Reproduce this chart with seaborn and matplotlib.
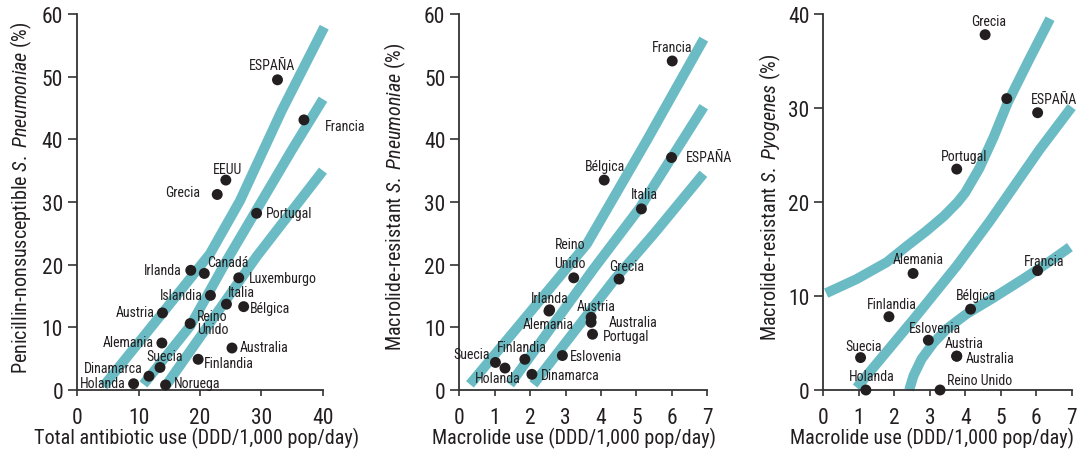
import matplotlib
matplotlib.use("Agg")
import matplotlib.pyplot as plt
import matplotlib.font_manager as fm
import seaborn as sns
import pandas as pd

# ---------------- data ----------------
p1_countries = ["ESPAÑA", "Francia", "EEUU", "Grecia", "Portugal", "Irlanda", "Canadá",
                "Luxemburgo", "Islandia", "Italia", "Bélgica", "Austria", "Reino\nUnido",
                "Alemania", "Australia", "Finlandia", "Suecia", "Dinamarca", "Holanda", "Noruega"]
p1_use = [32.6, 36.9, 24.2, 22.8, 29.2, 18.5, 20.7, 26.3, 21.7, 24.3, 27.1, 13.9, 18.4,
          13.8, 25.2, 19.7, 13.5, 11.7, 9.2, 14.4]
p1_res = [49.5, 43.1, 33.5, 31.2, 28.2, 19.1, 18.6, 17.9, 15.1, 13.7, 13.3, 12.3, 10.6,
          7.5, 6.7, 4.9, 3.6, 2.2, 1.0, 0.8]

p2_countries = ["Francia", "ESPAÑA", "Bélgica", "Italia", "Reino\nUnido", "Grecia", "Irlanda",
                "Alemania", "Austria", "Australia", "Portugal", "Suecia", "Holanda",
                "Finlandia", "Eslovenia", "Dinamarca"]
p2_use = [6.01, 5.99, 4.09, 5.14, 3.23, 4.51, 2.55, 2.53, 3.72, 3.72, 3.76, 1.02, 1.29,
          1.85, 2.91, 2.05]
p2_res = [52.5, 37.1, 33.5, 28.9, 17.9, 17.7, 12.8, 12.6, 11.6, 10.8, 8.9, 4.4, 3.5,
          4.9, 5.5, 2.5]

p3_countries = ["Grecia", "", "ESPAÑA", "Portugal", "Alemania", "Francia", "Finlandia",
                "Bélgica", "Eslovenia", "Austria", "Australia", "Suecia", "Holanda",
                "Reino Unido"]
p3_use = [4.56, 5.17, 6.04, 3.76, 2.53, 6.04, 1.85, 4.15, 2.96, 3.76, 3.76, 1.05, 1.2, 3.29]
p3_res = [37.8, 31.0, 29.5, 23.5, 12.4, 12.7, 7.8, 8.6, 5.3, 3.6, 3.6, 3.45, 0.0, 0.0]

# regression line and confidence band curves
p1_upper_x = [4.3, 14.0, 21.6, 26.5, 33.3, 40.2]
p1_upper_y = [0.6, 12.4, 21.7, 30.2, 44.6, 57.9]
p1_mid_x = [10.8, 18.4, 24.3, 35.0, 40.0]
p1_mid_y = [0.9, 10.2, 20.6, 38.4, 46.4]
p1_low_x = [14.6, 29.2, 40.0]
p1_low_y = [0.9, 21.3, 35.0]

p2_upper_x = [0.3, 3.6, 5.29, 6.9]
p2_upper_y = [0.9, 23.3, 39.8, 56.0]
p2_mid_x = [1.43, 3.8, 5.1, 6.9]
p2_mid_y = [0.9, 19.4, 29.1, 45.2]
p2_low_x = [2.09, 4.39, 5.52, 6.89]
p2_low_y = [0.9, 17.7, 25.1, 34.5]

p3_upper_x = [0.08, 0.94, 1.79, 2.35, 2.9, 3.4, 3.79, 4.0, 4.4, 4.8, 5.2, 5.78, 6.39]
p3_upper_y = [10.3, 11.8, 13.6, 15.3, 16.9, 18.5, 20.0, 21.0, 23.6, 26.9, 30.6, 35.0, 39.5]
p3_mid_x = [0.94, 2.54, 3.76, 4.7, 6.1, 7.0]
p3_mid_y = [0.25, 7.5, 13.2, 18.0, 25.6, 30.1]
p3_low_x = [2.42, 2.54, 2.77, 3.1, 3.48, 4.04, 4.79, 5.63, 6.39, 6.95]
p3_low_y = [0.0, 1.5, 3.3, 5.0, 6.5, 8.1, 9.8, 11.8, 13.7, 15.2]

p1_xticks = [0, 10, 20, 30, 40]
p23_xticks = [0, 1, 2, 3, 4, 5, 6, 7]
p12_yticks = [0, 10, 20, 30, 40, 50, 60]
p3_yticks = [0, 10, 20, 30, 40]

# ---------------- label placement (ha, dx px, dy px) ----------------
p1_lab = {"ESPAÑA": ("center", -5, 15), "Francia": ("left", 21, -6), "EEUU": ("center", 2, 11),
          "Grecia": ("right", -17, 2), "Portugal": ("left", 9, 0), "Irlanda": ("right", -9, 0),
          "Canadá": ("left", 3, 11), "Luxemburgo": ("left", 10, 0), "Islandia": ("right", -8, 0),
          "Italia": ("left", 1, 12), "Bélgica": ("left", 6, -1), "Austria": ("right", -8, 1),
          "Reino\nUnido": ("left", 7, 1), "Alemania": ("right", -8, 1), "Australia": ("left", 8, 1),
          "Finlandia": ("left", 6, -4), "Suecia": ("center", 5, 11), "Dinamarca": ("right", -6, 8),
          "Holanda": ("right", -8, 1), "Noruega": ("left", 8, 2)}
p2_lab = {"Francia": ("center", 0, 14), "ESPAÑA": ("left", 14, 1), "Bélgica": ("center", 1, 14),
          "Italia": ("center", 3, 15), "Reino\nUnido": ("center", -4, 24), "Grecia": ("center", 8, 13),
          "Irlanda": ("center", 0, 12), "Alemania": ("center", -1, -13), "Austria": ("center", 5, 11),
          "Australia": ("left", 18, 0), "Portugal": ("left", 10, -2), "Suecia": ("right", -6, 8),
          "Holanda": ("center", -7, -10), "Finlandia": ("center", -3, 12), "Eslovenia": ("left", 7, 0),
          "Dinamarca": ("left", 9, -1)}
p3_lab = {"Grecia": ("center", 4, 14), "ESPAÑA": ("center", 16, 14), "Portugal": ("center", 7, 13),
          "Alemania": ("center", 5, 14), "Francia": ("center", 6, 10), "Finlandia": ("center", 3, 13),
          "Bélgica": ("center", 5, 14), "Eslovenia": ("center", 7, 12), "Austria": ("center", 7, 13),
          "Australia": ("left", 9, -2), "Suecia": ("center", 3, 12), "Holanda": ("center", 6, 14),
          "Reino Unido": ("left", 7, 10)}
line_spacing = {("p1", "Reino\nUnido"): 0.85, ("p2", "Reino\nUnido"): 1.45}

# ---------------- style ----------------
sns.set_style("ticks")
names = {f.name for f in fm.fontManager.ttflist}
FONT = "DejaVu Sans"
for cand in ["Liberation Sans Narrow", "Roboto Condensed", "Open Sans Condensed", "Lato"]:
    if cand in names:
        FONT = cand
        break
plt.rcParams["font.family"] = [FONT, "DejaVu Sans"]
plt.rcParams["mathtext.fontset"] = "custom"
plt.rcParams["mathtext.rm"] = FONT
plt.rcParams["mathtext.it"] = FONT + ":italic"
plt.rcParams["mathtext.default"] = "regular"

TEAL = "#6bbbc4"
INK = "#231f20"
SPINE = "#333333"

fig = plt.figure(figsize=(10.87, 4.60), dpi=100)
W, H = 1087.0, 460.0


def make_axes(left_px, right_px, top_px=15.0, bottom_px=391.0):
    return fig.add_axes([left_px / W, 1 - bottom_px / H, (right_px - left_px) / W,
                         (bottom_px - top_px) / H])


def draw_panel(ax, key, countries, xs, ys, bands, labels, xlim, ylim, xticks, yticks,
               xlabel, xlabel_x, ylabel, ylabel_x):
    for bx, by in bands:
        df = pd.DataFrame({"x": bx, "y": by})
        sns.lineplot(data=df, x="x", y="y", ax=ax, color=TEAL, linewidth=7.2, sort=False,
                     estimator=None, legend=False, solid_capstyle="butt",
                     solid_joinstyle="round", clip_on=False, zorder=2)
    dfp = pd.DataFrame({"x": xs, "y": ys})
    sns.scatterplot(data=dfp, x="x", y="y", ax=ax, color=INK, s=62, edgecolor="none",
                    linewidth=0, zorder=4, clip_on=False, legend=False)
    for name, x, y in zip(countries, xs, ys):
        if not name:
            continue
        ha, dx, dy = labels[name]
        ax.annotate(name, (x, y), xytext=(dx, dy), textcoords="offset pixels", ha=ha,
                    va="center", fontsize=10, color=INK, zorder=5,
                    linespacing=line_spacing.get((key, name), 1.2), annotation_clip=False)
    ax.set_xlim(*xlim)
    ax.set_ylim(*ylim)
    ax.set_xticks(xticks)
    ax.set_yticks(yticks)
    ax.tick_params(axis="y", length=6.5, width=1.2, pad=3.5, labelsize=15.5, colors=SPINE,
                   labelcolor=INK)
    ax.tick_params(axis="x", length=4.5, width=1.2, pad=8, labelsize=15.5, colors=SPINE,
                   labelcolor=INK)
    for s in ["top", "right"]:
        ax.spines[s].set_visible(False)
    for s in ["left", "bottom"]:
        ax.spines[s].set_color(SPINE)
        ax.spines[s].set_linewidth(1.3)
    ax.set_facecolor("none")
    ax.set_xlabel(xlabel, fontsize=14.5, color=INK, va="center")
    ax.xaxis.set_label_coords(xlabel_x, -0.125)
    ax.set_ylabel(ylabel, fontsize=14.5, color=INK, va="center")
    ax.yaxis.set_label_coords(ylabel_x, 0.515)


ax1 = make_axes(77, 323)
draw_panel(ax1, "p1", p1_countries, p1_use, p1_res,
           [(p1_upper_x, p1_upper_y), (p1_mid_x, p1_mid_y), (p1_low_x, p1_low_y)],
           p1_lab, (0, 40), (0, 60), p1_xticks, p12_yticks,
           "Total antibiotic use (DDD/1,000 pop/day)", 0.488,
           r"Penicillin-nonsusceptible $\mathit{S.\ Pneumoniae}$ (%)", -0.225)

ax2 = make_axes(459.3, 707.3)
draw_panel(ax2, "p2", p2_countries, p2_use, p2_res,
           [(p2_upper_x, p2_upper_y), (p2_mid_x, p2_mid_y), (p2_low_x, p2_low_y)],
           p2_lab, (0, 7), (0, 60), p23_xticks, p12_yticks,
           "Macrolide use (DDD/1,000 pop/day)", 0.4625,
           r"Macrolide-resistant $\mathit{S.\ Pneumoniae}$ (%)", -0.26)

ax3 = make_axes(823.3, 1071.7)
draw_panel(ax3, "p3", p3_countries, p3_use, p3_res,
           [(p3_upper_x, p3_upper_y), (p3_mid_x, p3_mid_y), (p3_low_x, p3_low_y)],
           p3_lab, (0, 7), (0, 40), p23_xticks, p3_yticks,
           "Macrolide use (DDD/1,000 pop/day)", 0.4376,
           r"Macrolide-resistant $\mathit{S.\ Pyogenes}$ (%)", -0.215)

fig.savefig("out.png", dpi=100, facecolor="white")
